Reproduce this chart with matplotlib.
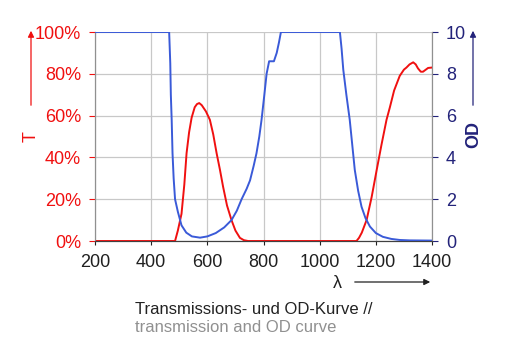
import matplotlib
matplotlib.use("Agg")
from matplotlib import pyplot as plt

plt.rcParams['font.family'] = ['Liberation Sans', 'DejaVu Sans']

RED = '#f01010'
BLUE = '#3a5ad8'
NAVY = '#23237a'

# optical density curve (0..10)
od_wl = [200, 464, 468, 470, 473, 476, 480, 485, 495, 508, 525, 545, 574, 600, 630,
         660, 686, 705, 722, 740, 752, 765, 775, 785, 793, 803, 811, 820, 830, 837,
         847, 855, 862, 1072, 1078, 1084, 1095, 1107, 1116, 1125, 1137, 1149, 1163,
         1179, 1200, 1225, 1255, 1285, 1320, 1400]
od_val = [10, 10, 8.5, 7.0, 5.8, 4.2, 3.0, 2.0, 1.4, 0.75, 0.4, 0.22, 0.16, 0.22, 0.38,
          0.65, 1.0, 1.45, 2.0, 2.5, 2.9, 3.6, 4.2, 5.0, 5.8, 7.0, 8.0, 8.6, 8.6, 8.6,
          9.0, 9.5, 10, 10, 9.2, 8.2, 7.0, 5.8, 4.6, 3.4, 2.4, 1.64, 1.1,
          0.69, 0.38, 0.2, 0.1, 0.05, 0.03, 0.02]

# transmission curve (%)
t_wl = [200, 485, 495, 508, 518, 526, 535, 544, 555, 563, 571, 580, 595, 609, 621,
        633, 645, 656, 670, 686, 700, 716, 730, 745, 1131, 1140, 1150, 1167, 1185,
        1203, 1220, 1238, 1250, 1265, 1285, 1300, 1309, 1320, 1333, 1342, 1350,
        1360, 1368, 1378, 1386, 1400]
t_val = [0, 0, 5, 13, 27, 42, 52, 59, 64, 65.5, 66, 65, 62, 58, 51,
         42, 34, 26, 17, 10, 5, 1.5, 0.4, 0, 0, 1.5, 4, 10, 21,
         34, 46, 58, 64, 72, 79, 82, 83, 84.5, 85.5, 84.5, 82.6,
         81, 81, 82, 82.8, 83]

x_ticks = [200, 400, 600, 800, 1000, 1200, 1400]
t_ticks = [0, 20, 40, 60, 80, 100]
t_labels = ['0%', '20%', '40%', '60%', '80%', '100%']
od_ticks = [0, 2, 4, 6, 8, 10]

fig = plt.figure(figsize=(5.07, 3.58), dpi=100)
ax = fig.add_axes([0.1874, 0.3268, 0.6647, 0.5838])
ax2 = ax.twinx()

ax.plot(t_wl, t_val, color=RED, lw=1.4, zorder=4)
ax2.plot(od_wl, od_val, color=BLUE, lw=1.4, zorder=3)

ax.set_xlim(200, 1400)
ax.set_ylim(0, 100)
ax2.set_ylim(0, 10)
ax.set_xticks(x_ticks)
ax.set_yticks(t_ticks)
ax.set_yticklabels(t_labels)
ax2.set_yticks(od_ticks)

ax.grid(True, color='#c8c8c8', lw=0.9)
ax.set_axisbelow(True)

for a in (ax, ax2):
    a.spines['top'].set_visible(False)
    a.spines['left'].set_color('#909090')
    a.spines['right'].set_color('#909090')
    a.spines['bottom'].set_color('#404040')

ax.tick_params(axis='x', labelsize=13, colors='#202020', length=3, pad=6)
ax.tick_params(axis='y', labelsize=13, colors=RED, length=4, pad=6)
ax2.tick_params(axis='y', labelsize=13, colors=NAVY, length=4, pad=6)
for lbl in ax.get_yticklabels():
    lbl.set_color(RED)
for lbl in ax.get_xticklabels():
    lbl.set_color('#202020')

W, H = 507.0, 358.0

def fx(px):
    return px / W

def fy(py):
    return 1 - py / H

# axis name arrows
fig.text(fx(31), fy(137), 'T', color=RED, fontsize=13, rotation=90,
         ha='center', va='center')
ax.annotate('', xy=(fx(31), fy(28)), xytext=(fx(31), fy(108)),
            xycoords='figure fraction', textcoords='figure fraction',
            arrowprops=dict(arrowstyle='-|>', color=RED, lw=0.9, mutation_scale=9))
fig.text(fx(474), fy(135), 'OD', color=NAVY, fontsize=13, rotation=90,
         ha='center', va='center', fontweight='bold')
ax.annotate('', xy=(fx(473), fy(28)), xytext=(fx(473), fy(108)),
            xycoords='figure fraction', textcoords='figure fraction',
            arrowprops=dict(arrowstyle='-|>', color=NAVY, lw=0.9, mutation_scale=9))

fig.text(fx(337), fy(284), 'λ', color='#202020', fontsize=13, ha='center', va='center')
ax.annotate('', xy=(fx(433), fy(282)), xytext=(fx(352), fy(282)),
            xycoords='figure fraction', textcoords='figure fraction',
            arrowprops=dict(arrowstyle='-|>', color='#202020', lw=0.9, mutation_scale=9))

fig.text(fx(135), fy(309), 'Transmissions- und OD-Kurve //', color='#222222',
         fontsize=12, ha='left', va='center')
fig.text(fx(135), fy(328), 'transmission and OD curve', color='#909090',
         fontsize=12, ha='left', va='center')

fig.savefig('out.png', dpi=100)
